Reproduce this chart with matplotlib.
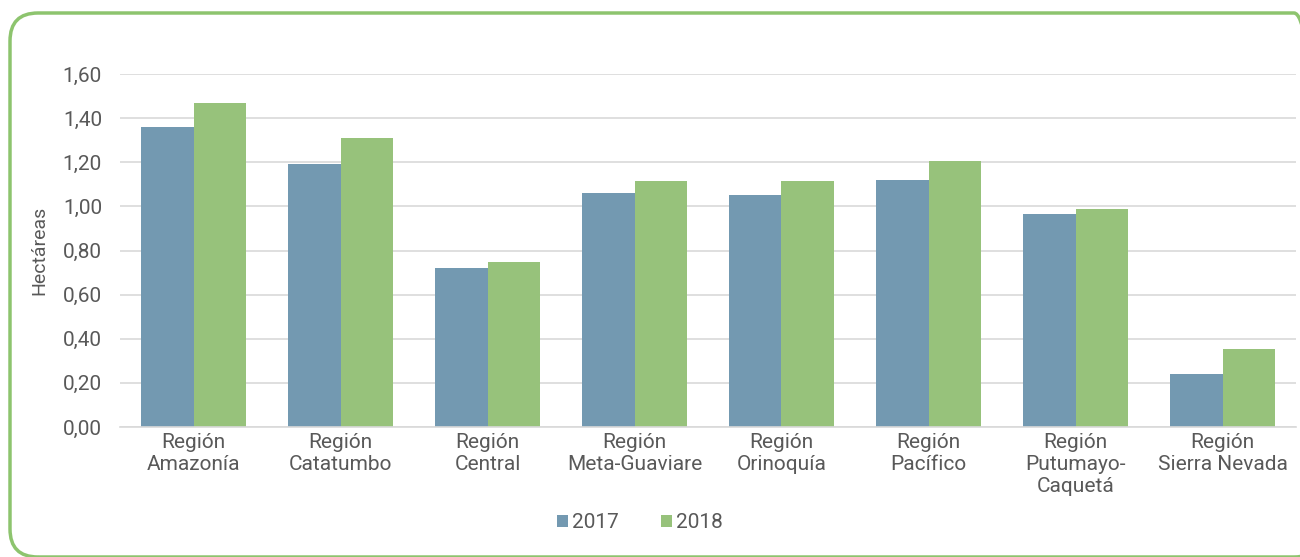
import matplotlib.pyplot as plt
import numpy as np
from matplotlib.patches import FancyBboxPatch
from matplotlib.ticker import FuncFormatter
from matplotlib.transforms import IdentityTransform

plt.rcParams['font.family'] = ['Roboto', 'DejaVu Sans']

regions = ["Región\nAmazonía", "Región\nCatatumbo", "Región\nCentral",
           "Región\nMeta-Guaviare", "Región\nOrinoquía", "Región\nPacífico",
           "Región\nPutumayo-\nCaquetá", "Región\nSierra Nevada"]
v2017 = [1.36, 1.19, 0.72, 1.06, 1.05, 1.12, 0.965, 0.24]
v2018 = [1.47, 1.31, 0.75, 1.115, 1.115, 1.205, 0.99, 0.355]
years = ["2017", "2018"]
colors = ["#7399b1", "#97c27b"]
grey = "#595959"

fig = plt.figure(figsize=(13, 5.57), dpi=100)
# rounded green frame, in pixel coordinates (right and bottom run off the image)
frame = FancyBboxPatch((10, 0), 1312, 544,
                       boxstyle="round,pad=0,rounding_size=28",
                       fill=False, edgecolor="#8dc46e", linewidth=2.5)
frame.set_transform(IdentityTransform())
fig.patches.append(frame)

ax = fig.add_axes([120 / 1300, 1 - 427 / 557, 1176 / 1300, 353 / 557])

x = np.arange(len(regions))
w = 0.354
ax.bar(x - w / 2, v2017, w, color=colors[0], label=years[0])
ax.bar(x + w / 2, v2018, w, color=colors[1], label=years[1])

ax.set_xlim(-0.5, len(regions) - 0.5)
ax.set_ylim(0, 1.6)
ax.set_yticks(np.arange(0, 1.61, 0.2))
ax.yaxis.set_major_formatter(FuncFormatter(lambda v, p: f"{v:.2f}".replace(".", ",")))
ax.set_xticks(x)
ax.set_xticklabels(regions, linespacing=1.2)
ax.grid(axis="y", color="#d9d9d9", linewidth=1.2)
ax.set_axisbelow(True)
for s in ["top", "right", "left"]:
    ax.spines[s].set_visible(False)
ax.spines["bottom"].set_color("#d9d9d9")
ax.spines["bottom"].set_linewidth(1.2)
ax.tick_params(axis="both", length=0, labelsize=15, labelcolor=grey)
ax.tick_params(axis="y", pad=13)
ax.tick_params(axis="x", pad=4)
ax.set_ylabel("Hectáreas", fontsize=14, color=grey, labelpad=10)

fig.legend(loc="center", bbox_to_anchor=(640 / 1300, 1 - 523 / 557), ncol=2,
           frameon=False, fontsize=15, labelcolor=grey, handlelength=0.55,
           handleheight=0.55, handletextpad=0.2, columnspacing=2.0)

fig.savefig("out.png", dpi=100)
